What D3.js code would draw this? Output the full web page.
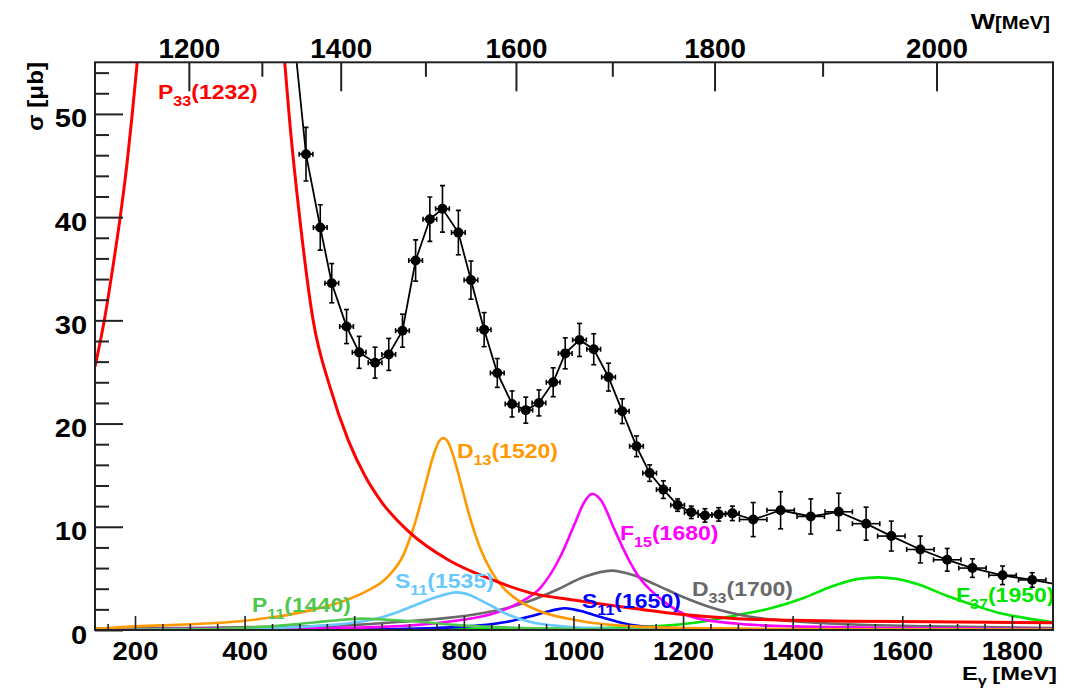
<!DOCTYPE html>
<html><head><meta charset="utf-8">
<script src="https://cdn.jsdelivr.net/npm/d3@7"></script>
<style>
body{margin:0;background:#fff;}
text{font-family:"Liberation Sans",Arial,Helvetica,sans-serif;font-weight:bold;}
</style>
</head><body>
<svg id="c" width="1071" height="692"></svg>
<script>
// ---------------- data ----------------
const eTicks = [200,400,600,800,1000,1200,1400,1600,1800];
const sTicks = [0,10,20,30,40,50];
const wTicks = [1200,1400,1600,1800,2000];
const wMinor = [1300,1500,1700,1900];

const dataE = [512,538,559,586,609,638,663,688,712,738,761,790,813,837,861,888,913,937,963,985,1011,1037,1064,1089,1115,1139,1164,1190,1215,1240,1265,1290,1328,1378,1433,1484,1534,1580,1633,1682,1728,1783,1837];
const dataS = [46.1,39.0,33.6,29.4,26.9,25.9,26.7,29.0,35.8,39.8,40.8,38.5,33.9,29.1,24.9,21.9,21.3,22.0,24.0,26.8,28.1,27.2,24.5,21.2,17.8,15.2,13.6,12.1,11.4,11.1,11.2,11.3,10.7,11.6,11.0,11.45,10.3,9.1,7.8,6.8,6.0,5.3,4.85];
const dataErr = [2.6,2.2,1.9,1.65,1.55,1.5,1.55,1.6,2.0,2.15,2.25,2.15,1.85,1.65,1.4,1.26,1.26,1.26,1.4,1.5,1.6,1.5,1.35,1.2,1.0,0.8,0.85,0.6,0.6,0.65,0.65,0.7,1.65,1.8,1.7,1.8,1.6,1.45,1.3,1.1,0.9,0.9,0.7];
const dataEx = [12.5,12.5,12.5,12.5,12.5,12.5,12.5,12.5,12.5,12.5,12.5,12.5,12.5,12.5,12.5,12.5,12.5,12.5,12.5,12.5,12.5,12.5,12.5,12.5,12.5,12.5,12.5,12.5,12.5,12.5,12.5,12.5,25,25,25,25,25,25,25,25,25,25,25];
const fitStart = [493, 56];
const fitEnd = [1875, 4.5];

const p33E = [127,144,160,173,185,195,204,215,260,340,420,470,482,501,525,556,589,620,650,700,771,850,921,1000,1109,1200,1299,1400,1500,1650,1875];
const p33S = [25.5,30,35.3,40,45,50,55,62,100,160,100,57,49.4,39.7,30.0,23.5,18.4,14.9,12.4,9.5,6.8,4.9,3.6,2.9,2.1,1.5,1.1,0.95,0.85,0.8,0.7];
const d13E = [127,200,300,400,460,520,580,620,660,690,710,730,745,755,762,770,780,795,810,830,850,870,900,940,1000,1050,1110,1200,1400,1875];
const d13S = [0.1,0.35,0.55,0.9,1.3,1.9,2.8,3.7,5.1,7.3,10.2,14.1,17.0,18.3,18.6,18.3,17.0,14.1,11.1,7.9,5.7,4.2,2.85,1.8,1.0,0.6,0.35,0.2,0.1,0.05];
const s1535E = [127,400,500,580,640,680,720,750,770,787,805,830,850,880,920,980,1050,1200,1875];
const s1535S = [0.0,0.1,0.3,0.6,1.1,1.75,2.6,3.2,3.5,3.65,3.5,2.9,2.35,1.5,0.8,0.35,0.15,0.05,0.0];
const p11E = [127,300,400,470,530,580,614,660,720,780,850,950,1100,1875];
const p11S = [0.0,0.05,0.2,0.45,0.75,1.0,1.1,1.0,0.8,0.5,0.3,0.15,0.05,0.0];
const s1650E = [127,600,750,830,880,920,950,970,984,1000,1020,1050,1080,1110,1150,1250,1400,1875];
const s1650S = [0.0,0.05,0.2,0.45,0.8,1.3,1.75,2.0,2.1,2.0,1.75,1.25,0.8,0.45,0.25,0.1,0.05,0.0];
const d33E = [127,300,450,600,700,800,870,920,970,1020,1069,1110,1150,1200,1250,1320,1400,1500,1650,1875];
const d33S = [0.15,0.2,0.3,0.5,0.85,1.35,2.0,2.8,3.9,5.15,5.75,5.3,4.4,3.2,2.2,1.3,0.85,0.55,0.35,0.2];
const f15E = [127,500,650,770,860,900,940,975,1000,1020,1034,1050,1075,1100,1120,1150,1180,1220,1300,1400,1600,1875];
const f15S = [0.05,0.15,0.3,0.8,1.7,2.6,4.1,7.0,10.0,12.4,13.2,12.6,9.7,6.9,5.1,3.4,2.2,1.2,0.6,0.35,0.2,0.1];
const f37E = [127,800,1000,1100,1175,1240,1300,1360,1420,1470,1520,1556,1590,1630,1680,1720,1770,1830,1875];
const f37S = [0.0,0.1,0.15,0.25,0.45,0.85,1.45,2.1,3.1,4.2,4.95,5.1,4.95,4.4,3.35,2.6,1.75,1.1,0.75];

// ---------------- layout ----------------
const svg = d3.select("#c");
const X0 = 95, X1 = 1053, Y0 = 630, Y1 = 62.3;
const x = d3.scaleLinear().domain([127,1875]).range([X0,X1]);
const y = d3.scaleLinear().domain([0,55]).range([Y0,Y1]);
const mp = 938.27;
const wScale = d3.scalePow().exponent(2)
  .domain([Math.sqrt(mp*mp+2*mp*127), Math.sqrt(mp*mp+2*mp*1875)]).range([X0,X1]);

svg.append("defs").append("clipPath").attr("id","clip")
  .append("rect").attr("x",X0).attr("y",Y1).attr("width",X1-X0).attr("height",Y0-Y1);

const comps = [
  {E:f37E, S:f37S, color:"#00e600", w:2.6, m:"F", sub:"37", rest:"(1950)", lx:956, ly:602},
  {E:d33E, S:d33S, color:"#696969", w:2.6, m:"D", sub:"33", rest:"(1700)", lx:692, ly:596},
  {E:s1650E, S:s1650S, color:"#0000ff", w:2.6, m:"S", sub:"11", rest:"(1650)", lx:582, ly:608},
  {E:f15E, S:f15S, color:"#ff00ff", w:2.6, m:"F", sub:"15", rest:"(1680)", lx:620, ly:540},
  {E:s1535E, S:s1535S, color:"#66c8ff", w:2.6, m:"S", sub:"11", rest:"(1535)", lx:395, ly:588},
  {E:p11E, S:p11S, color:"#50c850", w:2.6, m:"P", sub:"11", rest:"(1440)", lx:252, ly:612},
  {E:d13E, S:d13S, color:"#ff9900", w:2.6, m:"D", sub:"13", rest:"(1520)", lx:457, ly:458},
  {E:p33E, S:p33S, color:"#ff0000", w:3, m:"P", sub:"33", rest:"(1232)", lx:158, ly:99}
];

const plot = svg.append("g").attr("clip-path","url(#clip)");
const line = d3.line().x(d=>x(d[0])).y(d=>y(d[1])).curve(d3.curveMonotoneX);
comps.forEach(c=>{
  const pts = c.E.map((e,i)=>[e,c.S[i]]);
  plot.append("path").attr("d",line(pts)).attr("fill","none")
    .attr("stroke",c.color).attr("stroke-width",c.w);
});

// fit / connecting line
const dpts = dataE.map((e,i)=>[e,dataS[i]]);
const fitPts = [fitStart, ...dpts, fitEnd];
plot.append("path").attr("d", d3.line().x(d=>x(d[0])).y(d=>y(d[1]))(fitPts))
  .attr("fill","none").attr("stroke","#000").attr("stroke-width",1.8);

// data points with errors
const dg = plot.append("g").attr("stroke","#000").attr("stroke-width",1.6);
dataE.forEach((e,i)=>{
  const cx = x(e), cy = y(dataS[i]);
  const yt = y(dataS[i]+dataErr[i]), yb = y(dataS[i]-dataErr[i]);
  const xl = x(e-dataEx[i]), xr = x(e+dataEx[i]);
  dg.append("line").attr("x1",cx).attr("x2",cx).attr("y1",yt).attr("y2",yb);
  dg.append("line").attr("x1",cx-2.5).attr("x2",cx+2.5).attr("y1",yt).attr("y2",yt);
  dg.append("line").attr("x1",cx-2.5).attr("x2",cx+2.5).attr("y1",yb).attr("y2",yb);
  dg.append("line").attr("x1",xl).attr("x2",xr).attr("y1",cy).attr("y2",cy);
  dg.append("line").attr("x1",xl).attr("x2",xl).attr("y1",cy-2.5).attr("y2",cy+2.5);
  dg.append("line").attr("x1",xr).attr("x2",xr).attr("y1",cy-2.5).attr("y2",cy+2.5);
  dg.append("circle").attr("cx",cx).attr("cy",cy).attr("r",5).attr("fill","#000").attr("stroke","none");
});

// labels
comps.forEach(c=>{
  const g = svg.append("g").attr("transform",`translate(${c.lx},${c.ly}) scale(1.15,1)`);
  const t = g.append("text").attr("fill",c.color).attr("font-size",20);
  t.append("tspan").text(c.m);
  t.append("tspan").attr("font-size",14).attr("dy",7).text(c.sub);
  t.append("tspan").attr("dy",-7).text(c.rest);
});

// axes
function styleAxis(g, fs, sx){
  g.select(".domain").remove();
  g.selectAll("line").attr("stroke","#222").attr("stroke-width",2);
  g.selectAll("text").attr("fill","#000").attr("font-size",fs)
    .attr("font-family","'Liberation Sans',Arial,sans-serif").attr("font-weight","bold")
    .attr("transform",`scale(${sx},1)`);
}
const eMinor = d3.range(150,1875,50).filter(v=>v%200!==0);
const sMinor = d3.range(0,55.01,2).filter(v=>v%10!==0);

const gb = svg.append("g").attr("transform",`translate(0,${Y0})`)
  .call(d3.axisBottom(x).tickValues(eTicks).tickSize(-14).tickPadding(12).tickFormat(d3.format("d")));
styleAxis(gb,25,1.1);
gb.selectAll("line").attr("stroke-width",1.6);
const gbm = svg.append("g").attr("transform",`translate(0,${Y0})`)
  .call(d3.axisBottom(x).tickValues(eMinor).tickSize(-6).tickFormat(""));
styleAxis(gbm,25,1); gbm.selectAll("line").attr("stroke-width",1.6);

const gl = svg.append("g").attr("transform",`translate(${X0},0)`)
  .call(d3.axisLeft(y).tickValues(sTicks).tickSize(-28).tickPadding(7).tickFormat(d3.format("d")));
styleAxis(gl,26,1.12);
gl.selectAll("text").attr("dy","0.5em");
const glm = svg.append("g").attr("transform",`translate(${X0},0)`)
  .call(d3.axisLeft(y).tickValues(sMinor).tickSize(-14).tickFormat(""));
styleAxis(glm,25,1);

const gt = svg.append("g").attr("transform",`translate(0,${Y1})`)
  .call(d3.axisTop(wScale).tickValues(wTicks).tickSize(-29).tickPadding(4).tickFormat(d3.format("d")));
styleAxis(gt,27,1.03);
gt.selectAll("text").attr("dy","0");
const gtm = svg.append("g").attr("transform",`translate(0,${Y1})`)
  .call(d3.axisTop(wScale).tickValues(wMinor).tickSize(-14.5).tickFormat(""));
styleAxis(gtm,27,1);

// frame
svg.append("rect").attr("x",X0).attr("y",Y1).attr("width",X1-X0).attr("height",Y0-Y1)
  .attr("fill","none").attr("stroke","#222").attr("stroke-width",2);

// titles
const wt = svg.append("g").attr("transform","translate(1050,29) scale(1.12,1)");
const wtt = wt.append("text").attr("text-anchor","end").attr("fill","#000");
wtt.append("tspan").attr("font-size",23).text("W");
wtt.append("tspan").attr("font-size",18).text("[MeV]");

const et = svg.append("g").attr("transform","translate(962,680) scale(1.25,1)");
const ett = et.append("text").attr("fill","#000").attr("font-size",19);
ett.append("tspan").text("E");
ett.append("tspan").attr("font-size",13).attr("dy",5).text("γ");
svg.append("g").attr("transform","translate(1057,680) scale(1.25,1)")
  .append("text").attr("text-anchor","end").attr("font-size",19).attr("fill","#000").text("[MeV]");

svg.append("g").attr("transform","translate(43,62) rotate(-90) scale(1.1,1)")
  .append("text").attr("text-anchor","end").attr("font-size",22).attr("fill","#000").text("σ [μb]");
</script>
</body></html>
